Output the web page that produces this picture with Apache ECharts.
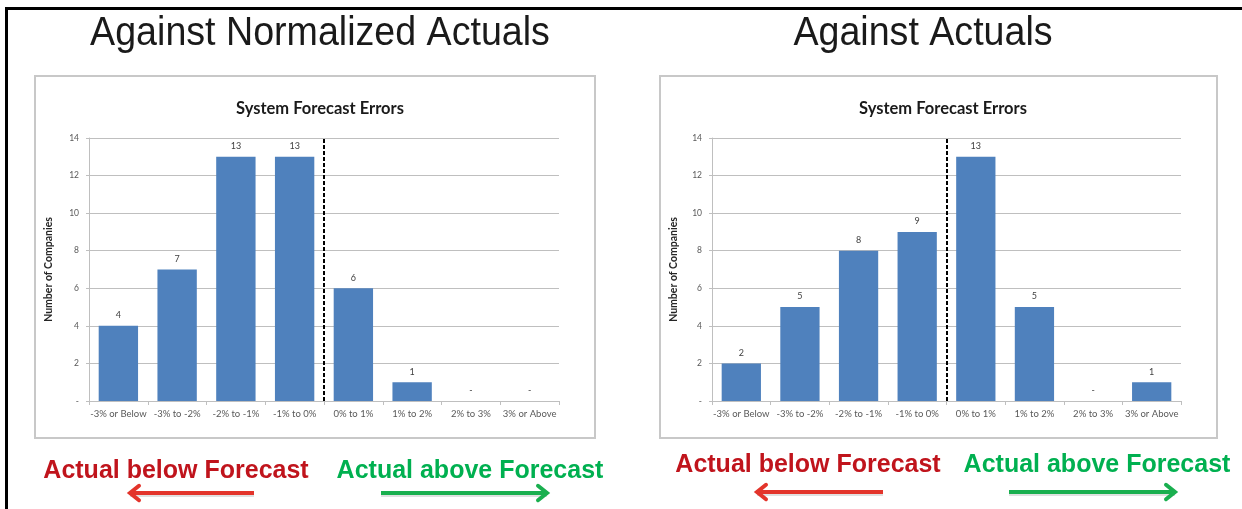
<!DOCTYPE html>
<html>
<head>
<meta charset="utf-8">
<script src="https://cdn.jsdelivr.net/npm/echarts@6/dist/echarts.min.js"></script>
<style>
html,body{margin:0;padding:0;background:#fff;}
#c{width:1242px;height:509px;}
</style>
</head>
<body>
<div id="c"></div>
<script>
// ---- data ----
const categories = ['-3% or Below','-3% to -2%','-2% to -1%','-1% to 0%','0% to 1%','1% to 2%','2% to 3%','3% or Above'];
const normalizedCounts = [4, 7, 13, 13, 6, 1, 0, 0];
const actualCounts = [2, 5, 8, 9, 13, 5, 0, 1];
const panelTitles = ['Against Normalized Actuals', 'Against Actuals'];
const chartTitle = 'System Forecast Errors';
const yAxisName = 'Number of Companies';
const dividerPosition = 4; // boundary between '-1% to 0%' and '0% to 1%'
const belowText = 'Actual below Forecast';
const aboveText = 'Actual above Forecast';

const chartFont = 'Lato, "Open Sans", sans-serif';
const barColor = '#4f81bd';
const red = '#c0141c', green = '#00b050';
const bigFont = '40px "Liberation Sans", Arial, sans-serif';
const noteFont = 'bold 25px "Liberation Sans", Arial, sans-serif';

const grids = [
  {left: 89, top: 138, width: 470, height: 263},
  {left: 712, top: 138, width: 469, height: 263}
];

function xCat(i){
  return {
    type:'category', gridIndex:i, data:categories,
    axisLine:{lineStyle:{color:'#bfbfbf', width:1}},
    axisTick:{show:true, length:4, lineStyle:{color:'#bfbfbf'}},
    axisLabel:{color:'#595959', fontSize:9.5, fontFamily:chartFont, margin:8, interval:0}
  };
}
function xHidden(i){
  return {type:'value', gridIndex:i, min:0, max:categories.length, show:false};
}
function yAx(i, gap){
  return {
    type:'value', gridIndex:i, min:0, max:14, interval:2,
    name:yAxisName, nameLocation:'middle', nameRotate:90, nameGap:gap,
    nameTextStyle:{fontSize:10.5, fontWeight:'bold', color:'#262626', fontFamily:chartFont},
    axisLine:{show:true, lineStyle:{color:'#bfbfbf'}},
    axisTick:{show:true, length:3, lineStyle:{color:'#bfbfbf'}},
    axisLabel:{color:'#595959', fontSize:8.5, fontFamily:chartFont, margin:10,
      formatter:v => v === 0 ? '-' : String(v)},
    splitLine:{lineStyle:{color:'#bfbfbf', width:1}}
  };
}
function bars(i, data){
  return {
    type:'bar', xAxisIndex:i*2, yAxisIndex:i, data:data,
    barCategoryGap:'33%',
    itemStyle:{color:barColor, borderWidth:0},
    label:{show:true, position:'top', distance:6, color:'#404040', fontSize:9, fontFamily:chartFont,
      formatter:p => p.value === 0 ? '-' : String(p.value)},
    z:3
  };
}
function divider(i){
  return {
    type:'line', xAxisIndex:i*2+1, yAxisIndex:i, data:[[dividerPosition, 0]],
    symbol:'none', lineStyle:{opacity:0}, silent:true, z:5,
    markLine:{symbol:'none', silent:true, label:{show:false},
      lineStyle:{color:'#000', width:2, type:[4,2]},
      data:[{xAxis:dividerPosition}]}
  };
}

function arrow(x1, x2, y, color){
  const dir = x2 < x1 ? -1 : 1;
  const h = 9;
  return [
    {type:'line', shape:{x1:x1, y1:y+2, x2:x2, y2:y+2}, style:{stroke:'rgba(0,0,0,0.12)', lineWidth:4}, z:1},
    {type:'line', shape:{x1:x1, y1:y, x2:x2 - dir*2, y2:y}, style:{stroke:color, lineWidth:4, lineCap:'butt'}, z:2},
    {type:'polyline', shape:{points:[[x2 - dir*h, y-h*0.8],[x2, y],[x2 - dir*h, y+h*0.8]]},
      style:{stroke:color, lineWidth:4, fill:null, lineJoin:'miter', lineCap:'round'}, z:2}
  ];
}

const chart = echarts.init(document.getElementById('c'), null, {renderer:'canvas'});
const option = {
  animation:false,
  backgroundColor:'#fff',
  graphic:[
    // outer frame
    {type:'line', shape:{x1:6.5, y1:8.5, x2:1242, y2:8.5}, style:{stroke:'#000', lineWidth:3}, z:10},
    {type:'line', shape:{x1:6.5, y1:7, x2:6.5, y2:509}, style:{stroke:'#000', lineWidth:3}, z:10},
    // chart boxes
    {type:'rect', shape:{x:35, y:76, width:560, height:362}, style:{stroke:'#c8c8c8', lineWidth:2, fill:'#fff'}, z:-10},
    {type:'rect', shape:{x:660, y:76, width:557, height:362}, style:{stroke:'#c8c8c8', lineWidth:2, fill:'#fff'}, z:-10},
    // panel titles (slightly condensed)
    {type:'text', x:320, y:34, scaleX:0.94, style:{text:panelTitles[0], fill:'#1a1a1a', font:bigFont, align:'center', verticalAlign:'middle'}},
    {type:'text', x:923, y:34, scaleX:0.94, style:{text:panelTitles[1], fill:'#1a1a1a', font:bigFont, align:'center', verticalAlign:'middle'}},
    // bottom annotations
    {type:'text', x:176, y:471, style:{text:belowText, fill:red, font:noteFont, align:'center', verticalAlign:'middle'}},
    {type:'text', x:470, y:471, style:{text:aboveText, fill:green, font:noteFont, align:'center', verticalAlign:'middle'}},
    {type:'text', x:808, y:465, style:{text:belowText, fill:red, font:noteFont, align:'center', verticalAlign:'middle'}},
    {type:'text', x:1097, y:465, style:{text:aboveText, fill:green, font:noteFont, align:'center', verticalAlign:'middle'}},
    ...arrow(254, 130, 493, '#e3342b'),
    ...arrow(381, 547, 493, '#1aaf4f'),
    ...arrow(883, 757, 492, '#e3342b'),
    ...arrow(1009, 1175, 492, '#1aaf4f')
  ],
  title:[
    {text:chartTitle, left:315, top:95, textAlign:'center',
      textStyle:{fontSize:16.5, fontWeight:'bold', color:'#1a1a1a', fontFamily:chartFont}},
    {text:chartTitle, left:938, top:95, textAlign:'center',
      textStyle:{fontSize:16.5, fontWeight:'bold', color:'#1a1a1a', fontFamily:chartFont}}
  ],
  grid:grids,
  xAxis:[xCat(0), xHidden(0), xCat(1), xHidden(1)],
  yAxis:[yAx(0, 35), yAx(1, 33)],
  series:[bars(0, normalizedCounts), divider(0), bars(1, actualCounts), divider(1)]
};
chart.setOption(option);
</script>
</body>
</html>
